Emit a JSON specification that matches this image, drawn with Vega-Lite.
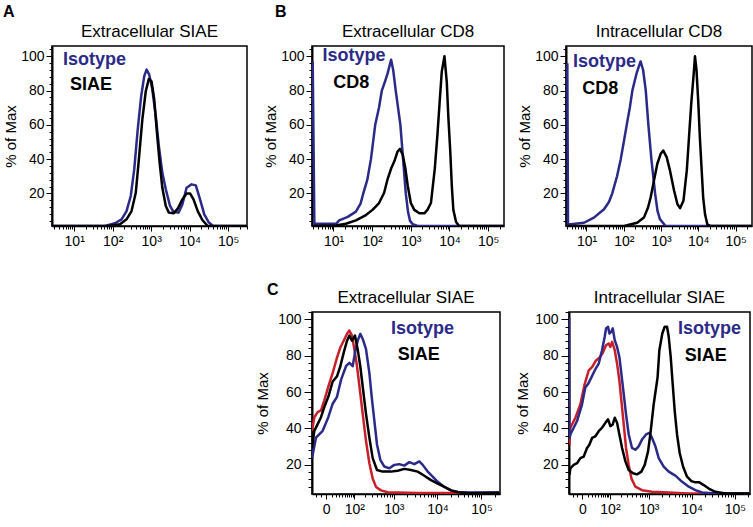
{
  "$schema": "https://vega.github.io/schema/vega-lite/v6.json",
  "padding": {"left": 2, "top": 4, "right": 2, "bottom": 2},
  "config": {
    "font": "Liberation Sans",
    "view": {"stroke": "black", "strokeWidth": 1.5},
    "axis": {"grid": false, "domainColor": "black", "domainWidth": 1.5, "tickColor": "black", "tickWidth": 1, "labelColor": "black", "labelFont": "Liberation Sans", "titleFont": "Liberation Sans", "titleColor": "black", "titleFontWeight": "normal", "labelFontSize": 14, "titleFontSize": 15},
    "title": {"font": "Liberation Sans", "color": "black"}
  },
  "spacing": 5,
  "hconcat": [
    {
      "title": {"text": "A", "anchor": "start", "frame": "bounds", "fontSize": 16, "fontWeight": "bold", "offset": 2},
      "vconcat": [
        {
          "width": 195, "height": 180,
          "title": {"text": "Extracellular SIAE", "fontSize": 17, "fontWeight": "normal", "offset": 5},
          "encoding": {
            "x": {"field": "x", "type": "quantitative", "scale": {"type": "log", "domain": [2.65, 309000], "nice": false},
              "axis": {"title": null, "values": [3,4,5,6,7,8,9,10,20,30,40,50,60,70,80,90,100,200,300,400,500,600,700,800,900,1000,2000,3000,4000,5000,6000,7000,8000,9000,10000,20000,30000,40000,50000,60000,70000,80000,90000,100000,200000,300000],
                "labelExpr": "datum.value == 10 ? '10¹' : datum.value == 100 ? '10²' : datum.value == 1000 ? '10³' : datum.value == 10000 ? '10⁴' : datum.value == 100000 ? '10⁵' : ''",
                "tickSize": {"condition": {"test": "indexof([10,100,1000,10000,100000], datum.value) >= 0", "value": 5}, "value": 3},
                "labelOverlap": false, "labelFlush": false, "labelPadding": 3, "labelFontSize": 14}},
            "y": {"field": "y", "type": "quantitative", "scale": {"domain": [1, 106], "zero": false, "nice": false},
              "axis": {"title": "% of Max", "values": [4,8,12,16,20,24,28,32,36,40,44,48,52,56,60,64,68,72,76,80,84,88,92,96,100,104],
                "labelExpr": "datum.value % 20 == 0 ? datum.label : ''",
                "tickSize": {"condition": {"test": "datum.value % 20 == 0", "value": 6}, "value": 3},
                "labelPadding": 2, "titlePadding": 2, "domainWidth": 2}},
            "color": {"field": "s", "type": "nominal", "scale": {"domain": ["Isotype", "SIAE", "CD8", "Unstained"], "range": ["#2b2a88", "#000000", "#000000", "#c8202a"]}, "legend": null}
          },
          "layer": [
            {
              "data": {"values": [
                {"s":"Isotype","x":2.7,"y":1},{"s":"Isotype","x":63,"y":1},{"s":"Isotype","x":115,"y":2.6},{"s":"Isotype","x":170,"y":4.9},{"s":"Isotype","x":229,"y":9.7},{"s":"Isotype","x":295,"y":18.5},{"s":"Isotype","x":363,"y":34},{"s":"Isotype","x":447,"y":57.3},{"s":"Isotype","x":550,"y":76.7},{"s":"Isotype","x":661,"y":88.4},{"s":"Isotype","x":759,"y":92.2},{"s":"Isotype","x":891,"y":89.3},{"s":"Isotype","x":1072,"y":80.6},{"s":"Isotype","x":1318,"y":65},{"s":"Isotype","x":1585,"y":47.6},{"s":"Isotype","x":1950,"y":32},{"s":"Isotype","x":2399,"y":22.4},{"s":"Isotype","x":3090,"y":12.7},{"s":"Isotype","x":3802,"y":9.2},{"s":"Isotype","x":5129,"y":8.8},{"s":"Isotype","x":6457,"y":13.6},{"s":"Isotype","x":8318,"y":23.3},{"s":"Isotype","x":11220,"y":25.3},{"s":"Isotype","x":14454,"y":24.7},{"s":"Isotype","x":18621,"y":16.5},{"s":"Isotype","x":23988,"y":7.8},{"s":"Isotype","x":31623,"y":3},{"s":"Isotype","x":40738,"y":1},{"s":"Isotype","x":300000,"y":1},
                {"s":"SIAE","x":2.7,"y":1},{"s":"SIAE","x":78,"y":1},{"s":"SIAE","x":155,"y":2},{"s":"SIAE","x":229,"y":4.9},{"s":"SIAE","x":309,"y":9.7},{"s":"SIAE","x":398,"y":20.4},{"s":"SIAE","x":479,"y":39.8},{"s":"SIAE","x":589,"y":63.1},{"s":"SIAE","x":724,"y":79.6},{"s":"SIAE","x":871,"y":86.8},{"s":"SIAE","x":1023,"y":85.4},{"s":"SIAE","x":1202,"y":74.8},{"s":"SIAE","x":1413,"y":55.4},{"s":"SIAE","x":1660,"y":37.9},{"s":"SIAE","x":1950,"y":23.3},{"s":"SIAE","x":2399,"y":12.7},{"s":"SIAE","x":2884,"y":8.8},{"s":"SIAE","x":3802,"y":8.4},{"s":"SIAE","x":4898,"y":11.1},{"s":"SIAE","x":6457,"y":16.5},{"s":"SIAE","x":8318,"y":20},{"s":"SIAE","x":10233,"y":20},{"s":"SIAE","x":12589,"y":16.5},{"s":"SIAE","x":16218,"y":9.7},{"s":"SIAE","x":21380,"y":4.5},{"s":"SIAE","x":29512,"y":1},{"s":"SIAE","x":300000,"y":1}
              ]},
              "mark": {"type": "line", "strokeWidth": 2.5, "clip": true, "strokeJoin": "round"}
            },
            {
              "data": {"values": [{"s":"Isotype","label":"Isotype","x":5.1,"y":98},{"s":"SIAE","label":"SIAE","x":7.8,"y":83.5}]},
              "mark": {"type": "text", "align": "left", "baseline": "middle", "fontSize": 18, "fontWeight": "bold", "font": "Liberation Sans"},
              "encoding": {"text": {"field": "label"}}
            }
          ]
        }
      ]
    },
    {
      "spacing": 32,
      "vconcat": [
        {
          "title": {"text": "B", "anchor": "start", "frame": "bounds", "fontSize": 16, "fontWeight": "bold", "offset": 2, "dx": 12},
          "spacing": 11,
          "hconcat": [
            {
              "width": 192, "height": 180,
              "title": {"text": "Extracellular CD8", "fontSize": 17, "fontWeight": "normal", "offset": 5},
              "encoding": {
                "x": {"field": "x", "type": "quantitative", "scale": {"type": "log", "domain": [2.78, 257000], "nice": false},
                  "axis": {"title": null, "values": [3,4,5,6,7,8,9,10,20,30,40,50,60,70,80,90,100,200,300,400,500,600,700,800,900,1000,2000,3000,4000,5000,6000,7000,8000,9000,10000,20000,30000,40000,50000,60000,70000,80000,90000,100000,200000],
                    "labelExpr": "datum.value == 10 ? '10¹' : datum.value == 100 ? '10²' : datum.value == 1000 ? '10³' : datum.value == 10000 ? '10⁴' : datum.value == 100000 ? '10⁵' : ''",
                    "tickSize": {"condition": {"test": "indexof([10,100,1000,10000,100000], datum.value) >= 0", "value": 5}, "value": 3},
                    "labelOverlap": false, "labelFlush": false, "labelPadding": 3, "labelFontSize": 14}},
                "y": {"field": "y", "type": "quantitative", "scale": {"domain": [1, 106], "zero": false, "nice": false},
                  "axis": {"title": "% of Max", "values": [4,8,12,16,20,24,28,32,36,40,44,48,52,56,60,64,68,72,76,80,84,88,92,96,100,104],
                    "labelExpr": "datum.value % 20 == 0 ? datum.label : ''",
                    "tickSize": {"condition": {"test": "datum.value % 20 == 0", "value": 6}, "value": 3},
                    "labelPadding": 2, "titlePadding": 2, "domainWidth": 2}},
                "color": {"field": "s", "type": "nominal", "scale": {"domain": ["Isotype", "SIAE", "CD8", "Unstained"], "range": ["#2b2a88", "#000000", "#000000", "#c8202a"]}, "legend": null}
              },
              "layer": [
                {
                  "data": {"values": [
                    {"s":"Isotype","x":2.9,"y":97},{"s":"Isotype","x":3.2,"y":2.3},{"s":"Isotype","x":11.6,"y":2.3},{"s":"Isotype","x":14.1,"y":4.3},{"s":"Isotype","x":23.4,"y":6.3},{"s":"Isotype","x":38,"y":9.4},{"s":"Isotype","x":50,"y":14},{"s":"Isotype","x":59,"y":20},{"s":"Isotype","x":75,"y":28},{"s":"Isotype","x":93,"y":40},{"s":"Isotype","x":120,"y":60},{"s":"Isotype","x":150,"y":70},{"s":"Isotype","x":178,"y":80},{"s":"Isotype","x":220,"y":86},{"s":"Isotype","x":251,"y":90},{"s":"Isotype","x":309,"y":98},{"s":"Isotype","x":350,"y":92},{"s":"Isotype","x":407,"y":80},{"s":"Isotype","x":537,"y":60},{"s":"Isotype","x":631,"y":40},{"s":"Isotype","x":741,"y":20},{"s":"Isotype","x":850,"y":9},{"s":"Isotype","x":955,"y":4},{"s":"Isotype","x":1122,"y":2},{"s":"Isotype","x":1500,"y":1},{"s":"Isotype","x":260000,"y":1},
                    {"s":"CD8","x":2.9,"y":1},{"s":"CD8","x":11.6,"y":1.3},{"s":"CD8","x":20.9,"y":2.3},{"s":"CD8","x":38,"y":4.3},{"s":"CD8","x":69,"y":7.4},{"s":"CD8","x":102,"y":10.4},{"s":"CD8","x":151,"y":14.4},{"s":"CD8","x":204,"y":20.4},{"s":"CD8","x":251,"y":28.4},{"s":"CD8","x":309,"y":34.5},{"s":"CD8","x":372,"y":38.6},{"s":"CD8","x":457,"y":44.6},{"s":"CD8","x":525,"y":46},{"s":"CD8","x":617,"y":42.6},{"s":"CD8","x":724,"y":34.5},{"s":"CD8","x":832,"y":24.5},{"s":"CD8","x":1000,"y":14.4},{"s":"CD8","x":1230,"y":10.4},{"s":"CD8","x":1660,"y":8.4},{"s":"CD8","x":2239,"y":8.4},{"s":"CD8","x":2692,"y":10.4},{"s":"CD8","x":3311,"y":14.4},{"s":"CD8","x":4169,"y":34.5},{"s":"CD8","x":4898,"y":54.7},{"s":"CD8","x":5623,"y":74.8},{"s":"CD8","x":6310,"y":90.9},{"s":"CD8","x":7413,"y":100},{"s":"CD8","x":8511,"y":84.9},{"s":"CD8","x":9333,"y":64.8},{"s":"CD8","x":10471,"y":44.6},{"s":"CD8","x":11482,"y":24.5},{"s":"CD8","x":12589,"y":10.4},{"s":"CD8","x":14791,"y":3.3},{"s":"CD8","x":17783,"y":1},{"s":"CD8","x":260000,"y":1}
                  ]},
                  "mark": {"type": "line", "strokeWidth": 2.5, "clip": true, "strokeJoin": "round"}
                },
                {
                  "data": {"values": [{"s":"Isotype","label":"Isotype","x":5.2,"y":100},{"s":"CD8","label":"CD8","x":9.9,"y":84.4}]},
                  "mark": {"type": "text", "align": "left", "baseline": "middle", "fontSize": 18, "fontWeight": "bold", "font": "Liberation Sans"},
                  "encoding": {"text": {"field": "label"}}
                }
              ]
            },
            {
              "width": 186, "height": 180,
              "title": {"text": "Intracellular CD8", "fontSize": 17, "fontWeight": "normal", "offset": 5},
              "encoding": {
                "x": {"field": "x", "type": "quantitative", "scale": {"type": "log", "domain": [2.82, 275000], "nice": false},
                  "axis": {"title": null, "values": [3,4,5,6,7,8,9,10,20,30,40,50,60,70,80,90,100,200,300,400,500,600,700,800,900,1000,2000,3000,4000,5000,6000,7000,8000,9000,10000,20000,30000,40000,50000,60000,70000,80000,90000,100000,200000],
                    "labelExpr": "datum.value == 10 ? '10¹' : datum.value == 100 ? '10²' : datum.value == 1000 ? '10³' : datum.value == 10000 ? '10⁴' : datum.value == 100000 ? '10⁵' : ''",
                    "tickSize": {"condition": {"test": "indexof([10,100,1000,10000,100000], datum.value) >= 0", "value": 5}, "value": 3},
                    "labelOverlap": false, "labelFlush": false, "labelPadding": 3, "labelFontSize": 14}},
                "y": {"field": "y", "type": "quantitative", "scale": {"domain": [1, 106], "zero": false, "nice": false},
                  "axis": {"title": "% of Max", "values": [4,8,12,16,20,24,28,32,36,40,44,48,52,56,60,64,68,72,76,80,84,88,92,96,100,104],
                    "labelExpr": "datum.value % 20 == 0 ? datum.label : ''",
                    "tickSize": {"condition": {"test": "datum.value % 20 == 0", "value": 6}, "value": 3},
                    "labelPadding": 2, "titlePadding": 2, "domainWidth": 2}},
                "color": {"field": "s", "type": "nominal", "scale": {"domain": ["Isotype", "SIAE", "CD8", "Unstained"], "range": ["#2b2a88", "#000000", "#000000", "#c8202a"]}, "legend": null}
              },
              "layer": [
                {
                  "data": {"values": [
                    {"s":"Isotype","x":3.06,"y":96},{"s":"Isotype","x":3.19,"y":2},{"s":"Isotype","x":3.76,"y":2},{"s":"Isotype","x":8.6,"y":2.9},{"s":"Isotype","x":15.8,"y":5.9},{"s":"Isotype","x":29.5,"y":10.8},{"s":"Isotype","x":40,"y":15},{"s":"Isotype","x":49,"y":20},{"s":"Isotype","x":66,"y":30},{"s":"Isotype","x":83,"y":40},{"s":"Isotype","x":100,"y":50},{"s":"Isotype","x":120,"y":60},{"s":"Isotype","x":145,"y":70},{"s":"Isotype","x":170,"y":80},{"s":"Isotype","x":220,"y":90},{"s":"Isotype","x":282,"y":97},{"s":"Isotype","x":330,"y":92},{"s":"Isotype","x":389,"y":80},{"s":"Isotype","x":457,"y":60},{"s":"Isotype","x":550,"y":40},{"s":"Isotype","x":692,"y":20},{"s":"Isotype","x":800,"y":10},{"s":"Isotype","x":933,"y":5},{"s":"Isotype","x":1318,"y":1},{"s":"Isotype","x":275000,"y":1},
                    {"s":"CD8","x":3.06,"y":1},{"s":"CD8","x":102,"y":1},{"s":"CD8","x":229,"y":2.9},{"s":"CD8","x":347,"y":5.9},{"s":"CD8","x":447,"y":11.8},{"s":"CD8","x":525,"y":17.6},{"s":"CD8","x":646,"y":27.5},{"s":"CD8","x":794,"y":37.3},{"s":"CD8","x":977,"y":43.1},{"s":"CD8","x":1148,"y":45},{"s":"CD8","x":1413,"y":41.2},{"s":"CD8","x":1738,"y":33.3},{"s":"CD8","x":2239,"y":21.6},{"s":"CD8","x":2754,"y":13.7},{"s":"CD8","x":3236,"y":11.4},{"s":"CD8","x":3981,"y":15.7},{"s":"CD8","x":4898,"y":33.3},{"s":"CD8","x":5623,"y":52.9},{"s":"CD8","x":6457,"y":72.5},{"s":"CD8","x":7413,"y":88.2},{"s":"CD8","x":8128,"y":100},{"s":"CD8","x":8913,"y":92.2},{"s":"CD8","x":10000,"y":72.5},{"s":"CD8","x":10965,"y":52.9},{"s":"CD8","x":12303,"y":33.3},{"s":"CD8","x":13490,"y":17.6},{"s":"CD8","x":15136,"y":7.8},{"s":"CD8","x":17378,"y":2},{"s":"CD8","x":21380,"y":1},{"s":"CD8","x":275000,"y":1}
                  ]},
                  "mark": {"type": "line", "strokeWidth": 2.5, "clip": true, "strokeJoin": "round"}
                },
                {
                  "data": {"values": [{"s":"Isotype","label":"Isotype","x":4.35,"y":96.5},{"s":"CD8","label":"CD8","x":7.7,"y":80.9}]},
                  "mark": {"type": "text", "align": "left", "baseline": "middle", "fontSize": 18, "fontWeight": "bold", "font": "Liberation Sans"},
                  "encoding": {"text": {"field": "label"}}
                }
              ]
            }
          ]
        },
        {
          "title": {"text": "C", "anchor": "start", "frame": "bounds", "fontSize": 16, "fontWeight": "bold", "offset": 2, "dx": 12, "dy": 12},
          "spacing": 13,
          "hconcat": [
            {
              "width": 188, "height": 182,
              "title": {"text": "Extracellular SIAE", "fontSize": 17, "fontWeight": "normal", "offset": 5},
              "encoding": {
                "x": {"field": "x", "type": "quantitative", "scale": {"type": "symlog", "constant": 30, "domain": [-33, 263000], "nice": false, "zero": false},
                  "axis": {"title": null, "values": [-20,-10,0,10,20,30,40,50,60,70,80,90,100,200,300,400,500,600,700,800,900,1000,2000,3000,4000,5000,6000,7000,8000,9000,10000,20000,30000,40000,50000,60000,70000,80000,90000,100000,200000],
                    "labelExpr": "datum.value == 0 ? '0' : datum.value == 100 ? '10²' : datum.value == 1000 ? '10³' : datum.value == 10000 ? '10⁴' : datum.value == 100000 ? '10⁵' : ''",
                    "tickSize": {"condition": {"test": "indexof([0,100,1000,10000,100000], datum.value) >= 0", "value": 5}, "value": 3},
                    "labelOverlap": false, "labelFlush": false, "labelPadding": 3, "labelFontSize": 14}},
                "y": {"field": "y", "type": "quantitative", "scale": {"domain": [4, 104], "zero": false, "nice": false},
                  "axis": {"title": "% of Max", "values": [8,12,16,20,24,28,32,36,40,44,48,52,56,60,64,68,72,76,80,84,88,92,96,100,104],
                    "labelExpr": "datum.value % 20 == 0 ? datum.label : ''",
                    "tickSize": {"condition": {"test": "datum.value % 20 == 0", "value": 8}, "value": 4},
                    "labelPadding": 3, "titlePadding": 7, "domainWidth": 2}},
                "color": {"field": "s", "type": "nominal", "scale": {"domain": ["Isotype", "SIAE", "CD8", "Unstained"], "range": ["#2b2a88", "#000000", "#000000", "#c8202a"]}, "legend": null}
              },
              "layer": [
                {
                  "data": {"values": [
                    {"s":"Unstained","x":-33,"y":38.7},{"s":"Unstained","x":-25.8,"y":46.2},{"s":"Unstained","x":-16.9,"y":49},{"s":"Unstained","x":-9.4,"y":49.9},{"s":"Unstained","x":-3.1,"y":55.5},{"s":"Unstained","x":3.5,"y":63},{"s":"Unstained","x":12.1,"y":70.5},{"s":"Unstained","x":22.7,"y":78.9},{"s":"Unstained","x":32.8,"y":84.5},{"s":"Unstained","x":44.8,"y":88.2},{"s":"Unstained","x":59,"y":92},{"s":"Unstained","x":70.5,"y":93.8},{"s":"Unstained","x":85.5,"y":91},{"s":"Unstained","x":100.5,"y":83.6},{"s":"Unstained","x":120,"y":74.2},{"s":"Unstained","x":148,"y":59.3},{"s":"Unstained","x":172,"y":48},{"s":"Unstained","x":210,"y":33.1},{"s":"Unstained","x":256,"y":20.9},{"s":"Unstained","x":310,"y":12.5},{"s":"Unstained","x":375,"y":7.9},{"s":"Unstained","x":495,"y":6},{"s":"Unstained","x":714,"y":5},{"s":"Unstained","x":3534,"y":4.5},{"s":"Unstained","x":260000,"y":4.5},
                    {"s":"Isotype","x":-33,"y":23.7},{"s":"Isotype","x":-21.1,"y":35},{"s":"Isotype","x":-6.1,"y":38.7},{"s":"Isotype","x":3.5,"y":46.2},{"s":"Isotype","x":12.1,"y":53.6},{"s":"Isotype","x":22.7,"y":57.4},{"s":"Isotype","x":35,"y":66.7},{"s":"Isotype","x":54.5,"y":74.2},{"s":"Isotype","x":70.5,"y":76.1},{"s":"Isotype","x":89.6,"y":74.2},{"s":"Isotype","x":105,"y":81.7},{"s":"Isotype","x":125,"y":88.2},{"s":"Isotype","x":148,"y":92},{"s":"Isotype","x":172,"y":89.2},{"s":"Isotype","x":210,"y":83.6},{"s":"Isotype","x":256,"y":70.5},{"s":"Isotype","x":293,"y":57.4},{"s":"Isotype","x":341,"y":44.3},{"s":"Isotype","x":396,"y":31.2},{"s":"Isotype","x":477,"y":22.8},{"s":"Isotype","x":595,"y":19.1},{"s":"Isotype","x":782,"y":18.1},{"s":"Isotype","x":1023,"y":20},{"s":"Isotype","x":1338,"y":20.4},{"s":"Isotype","x":1746,"y":19.6},{"s":"Isotype","x":2277,"y":21.5},{"s":"Isotype","x":2967,"y":20.4},{"s":"Isotype","x":3861,"y":21.9},{"s":"Isotype","x":4605,"y":20},{"s":"Isotype","x":5985,"y":16.3},{"s":"Isotype","x":7788,"y":13.5},{"s":"Isotype","x":10128,"y":10.7},{"s":"Isotype","x":14364,"y":7.9},{"s":"Isotype","x":20340,"y":6},{"s":"Isotype","x":31440,"y":5},{"s":"Isotype","x":57840,"y":4.7},{"s":"Isotype","x":260000,"y":5},
                    {"s":"SIAE","x":-33,"y":29.3},{"s":"SIAE","x":-25.8,"y":38.7},{"s":"SIAE","x":-16.9,"y":42.4},{"s":"SIAE","x":-9.4,"y":46.2},{"s":"SIAE","x":-3.1,"y":51.8},{"s":"SIAE","x":3.5,"y":57.4},{"s":"SIAE","x":12.1,"y":65.8},{"s":"SIAE","x":22.7,"y":68.6},{"s":"SIAE","x":32.8,"y":74.2},{"s":"SIAE","x":44.8,"y":81.7},{"s":"SIAE","x":59,"y":88.2},{"s":"SIAE","x":70.5,"y":91},{"s":"SIAE","x":85.5,"y":88.2},{"s":"SIAE","x":105,"y":91},{"s":"SIAE","x":125,"y":83.6},{"s":"SIAE","x":148,"y":74.2},{"s":"SIAE","x":172,"y":63},{"s":"SIAE","x":210,"y":48},{"s":"SIAE","x":256,"y":35},{"s":"SIAE","x":310,"y":23.7},{"s":"SIAE","x":396,"y":17.2},{"s":"SIAE","x":543,"y":16.3},{"s":"SIAE","x":855,"y":16.3},{"s":"SIAE","x":1224,"y":16.8},{"s":"SIAE","x":1746,"y":17.8},{"s":"SIAE","x":2484,"y":17.2},{"s":"SIAE","x":3534,"y":16.3},{"s":"SIAE","x":5016,"y":14},{"s":"SIAE","x":7128,"y":11.6},{"s":"SIAE","x":10128,"y":9.7},{"s":"SIAE","x":14364,"y":7.9},{"s":"SIAE","x":20340,"y":6},{"s":"SIAE","x":28830,"y":5},{"s":"SIAE","x":48600,"y":4.5},{"s":"SIAE","x":260000,"y":4.5}
                  ]},
                  "mark": {"type": "line", "strokeWidth": 2.5, "clip": true, "strokeJoin": "round"}
                },
                {
                  "data": {"values": [{"s":"Isotype","label":"Isotype","x":856,"y":94.8},{"s":"SIAE","label":"SIAE","x":1226,"y":80.3}]},
                  "mark": {"type": "text", "align": "left", "baseline": "middle", "fontSize": 18, "fontWeight": "bold", "font": "Liberation Sans"},
                  "encoding": {"text": {"field": "label"}}
                }
              ]
            },
            {
              "width": 181, "height": 182,
              "title": {"text": "Intracellular SIAE", "fontSize": 17, "fontWeight": "normal", "offset": 5},
              "encoding": {
                "x": {"field": "x", "type": "quantitative", "scale": {"type": "symlog", "constant": 30, "domain": [-31, 223000], "nice": false, "zero": false},
                  "axis": {"title": null, "values": [-20,-10,0,10,20,30,40,50,60,70,80,90,100,200,300,400,500,600,700,800,900,1000,2000,3000,4000,5000,6000,7000,8000,9000,10000,20000,30000,40000,50000,60000,70000,80000,90000,100000,200000],
                    "labelExpr": "datum.value == 0 ? '0' : datum.value == 100 ? '10²' : datum.value == 1000 ? '10³' : datum.value == 10000 ? '10⁴' : datum.value == 100000 ? '10⁵' : ''",
                    "tickSize": {"condition": {"test": "indexof([0,100,1000,10000,100000], datum.value) >= 0", "value": 5}, "value": 3},
                    "labelOverlap": false, "labelFlush": false, "labelPadding": 3, "labelFontSize": 14}},
                "y": {"field": "y", "type": "quantitative", "scale": {"domain": [4, 104], "zero": false, "nice": false},
                  "axis": {"title": "% of Max", "values": [8,12,16,20,24,28,32,36,40,44,48,52,56,60,64,68,72,76,80,84,88,92,96,100,104],
                    "labelExpr": "datum.value % 20 == 0 ? datum.label : ''",
                    "tickSize": {"condition": {"test": "datum.value % 20 == 0", "value": 8}, "value": 4},
                    "labelPadding": 3, "titlePadding": 4, "domainWidth": 2}},
                "color": {"field": "s", "type": "nominal", "scale": {"domain": ["Isotype", "SIAE", "CD8", "Unstained"], "range": ["#2b2a88", "#000000", "#000000", "#c8202a"]}, "legend": null}
              },
              "layer": [
                {
                  "data": {"values": [
                    {"s":"Unstained","x":-29.5,"y":31.1},{"s":"Unstained","x":-26.7,"y":40.4},{"s":"Unstained","x":-13.4,"y":45.9},{"s":"Unstained","x":-3.3,"y":53.3},{"s":"Unstained","x":4,"y":64.4},{"s":"Unstained","x":12.1,"y":71.9},{"s":"Unstained","x":20.3,"y":73.7},{"s":"Unstained","x":32,"y":77.4},{"s":"Unstained","x":44.2,"y":78.9},{"s":"Unstained","x":58.6,"y":81.5},{"s":"Unstained","x":75.7,"y":85.7},{"s":"Unstained","x":91.9,"y":86.7},{"s":"Unstained","x":103,"y":84.8},{"s":"Unstained","x":116,"y":87.6},{"s":"Unstained","x":138,"y":83},{"s":"Unstained","x":160,"y":75.6},{"s":"Unstained","x":185,"y":66.3},{"s":"Unstained","x":209,"y":55.2},{"s":"Unstained","x":241,"y":42.2},{"s":"Unstained","x":276,"y":29.3},{"s":"Unstained","x":323,"y":20},{"s":"Unstained","x":377,"y":12.6},{"s":"Unstained","x":473,"y":8},{"s":"Unstained","x":686,"y":6.1},{"s":"Unstained","x":1190,"y":5.2},{"s":"Unstained","x":2931,"y":4.8},{"s":"Unstained","x":8571,"y":4.3},{"s":"Unstained","x":220000,"y":4.3},
                    {"s":"Isotype","x":-30.5,"y":101},{"s":"Isotype","x":-29.5,"y":34.8},{"s":"Isotype","x":-26.7,"y":36.7},{"s":"Isotype","x":-17.5,"y":40.4},{"s":"Isotype","x":-9.8,"y":44.1},{"s":"Isotype","x":-0.5,"y":53.3},{"s":"Isotype","x":5.2,"y":62.6},{"s":"Isotype","x":10.6,"y":64.4},{"s":"Isotype","x":18.5,"y":68.1},{"s":"Isotype","x":27.9,"y":71.9},{"s":"Isotype","x":41.6,"y":75.6},{"s":"Isotype","x":55.5,"y":83},{"s":"Isotype","x":68.5,"y":90.4},{"s":"Isotype","x":75.7,"y":95},{"s":"Isotype","x":87.6,"y":95.9},{"s":"Isotype","x":96.3,"y":92.2},{"s":"Isotype","x":110,"y":93.1},{"s":"Isotype","x":121,"y":95},{"s":"Isotype","x":138,"y":88.5},{"s":"Isotype","x":160,"y":84.8},{"s":"Isotype","x":185,"y":79.3},{"s":"Isotype","x":209,"y":70},{"s":"Isotype","x":241,"y":58.9},{"s":"Isotype","x":276,"y":47.8},{"s":"Isotype","x":323,"y":36.7},{"s":"Isotype","x":391,"y":29.3},{"s":"Isotype","x":473,"y":28.3},{"s":"Isotype","x":570,"y":30.2},{"s":"Isotype","x":686,"y":33.9},{"s":"Isotype","x":857,"y":36.7},{"s":"Isotype","x":1029,"y":37.6},{"s":"Isotype","x":1190,"y":34.8},{"s":"Isotype","x":1428,"y":30.2},{"s":"Isotype","x":1710,"y":23.7},{"s":"Isotype","x":2238,"y":19.1},{"s":"Isotype","x":2931,"y":16.3},{"s":"Isotype","x":4188,"y":14.1},{"s":"Isotype","x":6015,"y":10.7},{"s":"Isotype","x":8571,"y":8},{"s":"Isotype","x":12210,"y":6.1},{"s":"Isotype","x":17400,"y":4.8},{"s":"Isotype","x":35340,"y":4.3},{"s":"Isotype","x":220000,"y":4.3},
                    {"s":"SIAE","x":-29.5,"y":14.4},{"s":"SIAE","x":-26.7,"y":18.1},{"s":"SIAE","x":-17.5,"y":20},{"s":"SIAE","x":-9.8,"y":20.9},{"s":"SIAE","x":-3.3,"y":23.7},{"s":"SIAE","x":2.3,"y":24.6},{"s":"SIAE","x":8.5,"y":29.3},{"s":"SIAE","x":13.6,"y":31.1},{"s":"SIAE","x":20.3,"y":34.8},{"s":"SIAE","x":30,"y":35.7},{"s":"SIAE","x":41.6,"y":38.5},{"s":"SIAE","x":55.5,"y":40.4},{"s":"SIAE","x":72,"y":43.1},{"s":"SIAE","x":87.6,"y":45},{"s":"SIAE","x":103,"y":41.3},{"s":"SIAE","x":121,"y":42.2},{"s":"SIAE","x":138,"y":45.9},{"s":"SIAE","x":160,"y":43.1},{"s":"SIAE","x":185,"y":36.7},{"s":"SIAE","x":218,"y":29.3},{"s":"SIAE","x":266,"y":21.9},{"s":"SIAE","x":323,"y":17.2},{"s":"SIAE","x":414,"y":15.4},{"s":"SIAE","x":520,"y":14.8},{"s":"SIAE","x":662,"y":16.3},{"s":"SIAE","x":797,"y":20},{"s":"SIAE","x":957,"y":27.4},{"s":"SIAE","x":1107,"y":38.5},{"s":"SIAE","x":1302,"y":53.3},{"s":"SIAE","x":1608,"y":68.1},{"s":"SIAE","x":1770,"y":83},{"s":"SIAE","x":2076,"y":92.2},{"s":"SIAE","x":2364,"y":95.9},{"s":"SIAE","x":2679,"y":95.9},{"s":"SIAE","x":2931,"y":90.4},{"s":"SIAE","x":3261,"y":79.3},{"s":"SIAE","x":3630,"y":64.4},{"s":"SIAE","x":4044,"y":49.6},{"s":"SIAE","x":4581,"y":36.7},{"s":"SIAE","x":5280,"y":26.5},{"s":"SIAE","x":6315,"y":19.1},{"s":"SIAE","x":7815,"y":13.5},{"s":"SIAE","x":9852,"y":11.1},{"s":"SIAE","x":12210,"y":10.4},{"s":"SIAE","x":15078,"y":10.4},{"s":"SIAE","x":19020,"y":8.9},{"s":"SIAE","x":24780,"y":7},{"s":"SIAE","x":35340,"y":5.2},{"s":"SIAE","x":60120,"y":4.3},{"s":"SIAE","x":220000,"y":4.3}
                  ]},
                  "mark": {"type": "line", "strokeWidth": 2.5, "clip": true, "strokeJoin": "round"}
                },
                {
                  "data": {"values": [{"s":"Isotype","label":"Isotype","x":4830,"y":94.5},{"s":"SIAE","label":"SIAE","x":6912,"y":79.7}]},
                  "mark": {"type": "text", "align": "left", "baseline": "middle", "fontSize": 18, "fontWeight": "bold", "font": "Liberation Sans"},
                  "encoding": {"text": {"field": "label"}}
                }
              ]
            }
          ]
        }
      ]
    }
  ]
}
